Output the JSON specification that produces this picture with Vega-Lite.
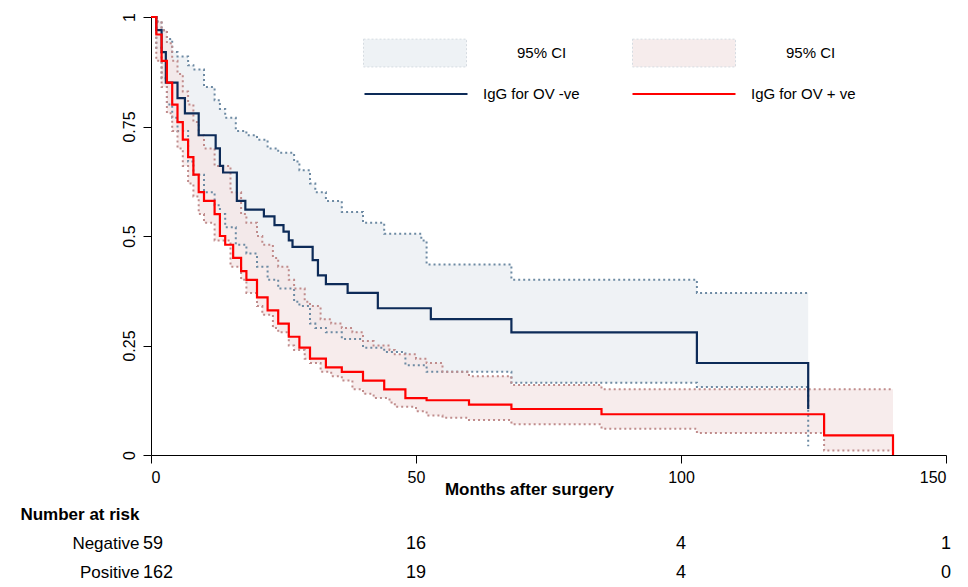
{
  "$schema": "https://vega.github.io/schema/vega-lite/v6.json",
  "background": "white",
  "padding": {"left": 19, "top": 1, "right": 18, "bottom": 0},
  "config": {
    "font": "Liberation Sans",
    "view": {"stroke": null},
    "axis": {"labelFont": "Liberation Sans", "titleFont": "Liberation Sans", "labelFontSize": 16, "labelColor": "black", "domainColor": "black", "tickColor": "black", "grid": false},
    "legend": {"labelFont": "Liberation Sans"}
  },
  "datasets": {
    "km": [
      {"grp": "neg", "t": 0, "s": 1}, {"grp": "neg", "t": 1, "s": 0.97}, {"grp": "neg", "t": 2, "s": 0.92}, {"grp": "neg", "t": 2.8, "s": 0.85},
      {"grp": "neg", "t": 5, "s": 0.815}, {"grp": "neg", "t": 6.4, "s": 0.78}, {"grp": "neg", "t": 9, "s": 0.73}, {"grp": "neg", "t": 12.2, "s": 0.7},
      {"grp": "neg", "t": 13, "s": 0.66}, {"grp": "neg", "t": 13.6, "s": 0.645}, {"grp": "neg", "t": 16.2, "s": 0.58}, {"grp": "neg", "t": 17.8, "s": 0.56},
      {"grp": "neg", "t": 21.3, "s": 0.545}, {"grp": "neg", "t": 23.3, "s": 0.525}, {"grp": "neg", "t": 25, "s": 0.51}, {"grp": "neg", "t": 26, "s": 0.49},
      {"grp": "neg", "t": 26.7, "s": 0.475}, {"grp": "neg", "t": 30.5, "s": 0.445}, {"grp": "neg", "t": 31.5, "s": 0.41}, {"grp": "neg", "t": 33, "s": 0.39},
      {"grp": "neg", "t": 37.1, "s": 0.37}, {"grp": "neg", "t": 42.8, "s": 0.335}, {"grp": "neg", "t": 52.8, "s": 0.31}, {"grp": "neg", "t": 68, "s": 0.28},
      {"grp": "neg", "t": 103, "s": 0.21}, {"grp": "neg", "t": 124, "s": 0.105},
      {"grp": "pos", "t": 0, "s": 1}, {"grp": "pos", "t": 1, "s": 0.96}, {"grp": "pos", "t": 2, "s": 0.9}, {"grp": "pos", "t": 3, "s": 0.85},
      {"grp": "pos", "t": 4, "s": 0.8}, {"grp": "pos", "t": 5, "s": 0.76}, {"grp": "pos", "t": 6, "s": 0.72}, {"grp": "pos", "t": 7, "s": 0.68},
      {"grp": "pos", "t": 8, "s": 0.64}, {"grp": "pos", "t": 9, "s": 0.6}, {"grp": "pos", "t": 10, "s": 0.58}, {"grp": "pos", "t": 12, "s": 0.55},
      {"grp": "pos", "t": 13, "s": 0.5}, {"grp": "pos", "t": 14, "s": 0.48}, {"grp": "pos", "t": 15.5, "s": 0.45}, {"grp": "pos", "t": 17, "s": 0.42},
      {"grp": "pos", "t": 18, "s": 0.4}, {"grp": "pos", "t": 20, "s": 0.36}, {"grp": "pos", "t": 22, "s": 0.33}, {"grp": "pos", "t": 24, "s": 0.3},
      {"grp": "pos", "t": 26, "s": 0.27}, {"grp": "pos", "t": 28, "s": 0.245}, {"grp": "pos", "t": 30, "s": 0.22}, {"grp": "pos", "t": 33, "s": 0.2},
      {"grp": "pos", "t": 36, "s": 0.19}, {"grp": "pos", "t": 40, "s": 0.17}, {"grp": "pos", "t": 44, "s": 0.15}, {"grp": "pos", "t": 48, "s": 0.13},
      {"grp": "pos", "t": 52, "s": 0.125}, {"grp": "pos", "t": 60, "s": 0.115}, {"grp": "pos", "t": 68, "s": 0.105}, {"grp": "pos", "t": 85, "s": 0.093},
      {"grp": "pos", "t": 127, "s": 0.045}, {"grp": "pos", "t": 140, "s": 0}
    ],
    "ci": [
      {"g": "neg", "t": 0, "lo": 1, "hi": 1}, {"g": "neg", "t": 1, "lo": 0.93, "hi": 0.99}, {"g": "neg", "t": 2, "lo": 0.86, "hi": 0.97},
      {"g": "neg", "t": 3, "lo": 0.8, "hi": 0.95}, {"g": "neg", "t": 4, "lo": 0.77, "hi": 0.92}, {"g": "neg", "t": 5, "lo": 0.74, "hi": 0.91},
      {"g": "neg", "t": 7, "lo": 0.67, "hi": 0.89}, {"g": "neg", "t": 8, "lo": 0.64, "hi": 0.88}, {"g": "neg", "t": 10, "lo": 0.6, "hi": 0.84},
      {"g": "neg", "t": 12, "lo": 0.57, "hi": 0.81}, {"g": "neg", "t": 13, "lo": 0.55, "hi": 0.79}, {"g": "neg", "t": 14, "lo": 0.52, "hi": 0.77},
      {"g": "neg", "t": 16, "lo": 0.48, "hi": 0.74}, {"g": "neg", "t": 18, "lo": 0.46, "hi": 0.73}, {"g": "neg", "t": 20, "lo": 0.43, "hi": 0.72},
      {"g": "neg", "t": 22, "lo": 0.4, "hi": 0.7}, {"g": "neg", "t": 24, "lo": 0.38, "hi": 0.69}, {"g": "neg", "t": 27, "lo": 0.35, "hi": 0.67},
      {"g": "neg", "t": 28, "lo": 0.34, "hi": 0.65}, {"g": "neg", "t": 30, "lo": 0.3, "hi": 0.62}, {"g": "neg", "t": 31, "lo": 0.29, "hi": 0.6},
      {"g": "neg", "t": 33, "lo": 0.28, "hi": 0.58}, {"g": "neg", "t": 36, "lo": 0.265, "hi": 0.555}, {"g": "neg", "t": 40, "lo": 0.245, "hi": 0.53},
      {"g": "neg", "t": 44, "lo": 0.235, "hi": 0.505}, {"g": "neg", "t": 48, "lo": 0.205, "hi": 0.505}, {"g": "neg", "t": 51, "lo": 0.205, "hi": 0.49},
      {"g": "neg", "t": 52, "lo": 0.19, "hi": 0.435}, {"g": "neg", "t": 68, "lo": 0.165, "hi": 0.4}, {"g": "neg", "t": 103, "lo": 0.155, "hi": 0.37},
      {"g": "neg", "t": 124, "lo": 0.02, "hi": 0.37},
      {"g": "pos", "t": 0, "lo": 1, "hi": 1}, {"g": "pos", "t": 1, "lo": 0.9, "hi": 0.99}, {"g": "pos", "t": 2, "lo": 0.84, "hi": 0.97},
      {"g": "pos", "t": 3, "lo": 0.78, "hi": 0.94}, {"g": "pos", "t": 4, "lo": 0.74, "hi": 0.9}, {"g": "pos", "t": 5, "lo": 0.7, "hi": 0.87},
      {"g": "pos", "t": 6, "lo": 0.66, "hi": 0.83}, {"g": "pos", "t": 7, "lo": 0.62, "hi": 0.8}, {"g": "pos", "t": 8, "lo": 0.59, "hi": 0.76},
      {"g": "pos", "t": 9, "lo": 0.55, "hi": 0.73}, {"g": "pos", "t": 10, "lo": 0.53, "hi": 0.7}, {"g": "pos", "t": 12, "lo": 0.49, "hi": 0.66},
      {"g": "pos", "t": 15, "lo": 0.43, "hi": 0.6}, {"g": "pos", "t": 17, "lo": 0.4, "hi": 0.55}, {"g": "pos", "t": 18, "lo": 0.37, "hi": 0.53},
      {"g": "pos", "t": 20, "lo": 0.34, "hi": 0.5}, {"g": "pos", "t": 21, "lo": 0.32, "hi": 0.48}, {"g": "pos", "t": 23, "lo": 0.29, "hi": 0.45},
      {"g": "pos", "t": 24, "lo": 0.28, "hi": 0.43}, {"g": "pos", "t": 26, "lo": 0.25, "hi": 0.4}, {"g": "pos", "t": 27, "lo": 0.24, "hi": 0.38},
      {"g": "pos", "t": 29, "lo": 0.22, "hi": 0.35}, {"g": "pos", "t": 30, "lo": 0.21, "hi": 0.34}, {"g": "pos", "t": 32, "lo": 0.19, "hi": 0.31},
      {"g": "pos", "t": 34, "lo": 0.18, "hi": 0.3}, {"g": "pos", "t": 36, "lo": 0.17, "hi": 0.29}, {"g": "pos", "t": 38, "lo": 0.15, "hi": 0.28},
      {"g": "pos", "t": 40, "lo": 0.14, "hi": 0.26}, {"g": "pos", "t": 42, "lo": 0.13, "hi": 0.25}, {"g": "pos", "t": 45, "lo": 0.12, "hi": 0.24},
      {"g": "pos", "t": 46, "lo": 0.11, "hi": 0.23}, {"g": "pos", "t": 50, "lo": 0.1, "hi": 0.22}, {"g": "pos", "t": 52, "lo": 0.09, "hi": 0.21},
      {"g": "pos", "t": 55, "lo": 0.085, "hi": 0.19}, {"g": "pos", "t": 60, "lo": 0.08, "hi": 0.18}, {"g": "pos", "t": 68, "lo": 0.07, "hi": 0.16},
      {"g": "pos", "t": 85, "lo": 0.06, "hi": 0.15}, {"g": "pos", "t": 103, "lo": 0.05, "hi": 0.15}, {"g": "pos", "t": 127, "lo": 0.01, "hi": 0.15},
      {"g": "pos", "t": 140, "lo": 0.01, "hi": 0.15}
    ],
    "risk": [
      {"row": "Negative", "t": 0, "n": "59"}, {"row": "Negative", "t": 50, "n": "16"}, {"row": "Negative", "t": 100, "n": "4"}, {"row": "Negative", "t": 150, "n": "1"},
      {"row": "Positive", "t": 0, "n": "162"}, {"row": "Positive", "t": 50, "n": "19"}, {"row": "Positive", "t": 100, "n": "4"}, {"row": "Positive", "t": 150, "n": "0"}
    ]
  },
  "bounds": "flush",
  "spacing": 45,
  "resolve": {"legend": {"fill": "independent", "stroke": "independent"}},
  "vconcat": [
    {
      "width": 795,
      "height": 438,
      "resolve": {"legend": {"fill": "independent", "stroke": "independent"}},
      "layer": [
        {
          "data": {"name": "ci"},
          "mark": {"type": "area", "interpolate": "step-after", "opacity": 0.75},
          "encoding": {
            "x": {"field": "t", "type": "quantitative", "scale": {"domain": [0, 150], "nice": false},
              "axis": {"values": [0, 50, 100, 150], "tickSize": 8, "labelPadding": 6, "title": "Months after surgery", "titleFontSize": 17, "titleFontWeight": "bold", "titlePadding": -4, "titleX": 378}},
            "y": {"field": "hi", "type": "quantitative", "scale": {"domain": [0, 1], "nice": false},
              "axis": {"values": [0, 0.25, 0.5, 0.75, 1], "labelExpr": "datum.value", "labelAngle": -90, "labelAlign": "center", "labelBaseline": "bottom", "tickSize": 8, "labelPadding": 6, "title": null}},
            "y2": {"field": "lo"},
            "fill": {"field": "g", "type": "nominal", "scale": {"domain": ["neg", "pos"], "range": ["#e9eef2", "#f4e6e6"]},
              "legend": {"orient": "none", "legendX": 212, "legendY": -16, "direction": "horizontal", "columns": 2, "title": null,
                "symbolType": "M-1,-0.27H1V0.27H-1Z", "symbolSize": 10609, "symbolStrokeColor": "#c8d0d8", "symbolStrokeWidth": 1, "symbolDash": [2, 2],
                "labelExpr": "'95% CI'", "labelFontSize": 15, "labelOffset": 50, "columnPadding": 63, "labelLimit": 200}}
          }
        },
        {"data": {"name": "ci"}, "transform": [{"filter": "datum.g == 'neg'"}], "mark": {"type": "line", "interpolate": "step-after", "color": "#6d8aa3", "strokeDash": [2, 3], "strokeWidth": 2}, "encoding": {"x": {"field": "t", "type": "quantitative"}, "y": {"field": "hi", "type": "quantitative"}}},
        {"data": {"name": "ci"}, "transform": [{"filter": "datum.g == 'neg'"}], "mark": {"type": "line", "interpolate": "step-after", "color": "#6d8aa3", "strokeDash": [2, 3], "strokeWidth": 2}, "encoding": {"x": {"field": "t", "type": "quantitative"}, "y": {"field": "lo", "type": "quantitative"}}},
        {"data": {"name": "ci"}, "transform": [{"filter": "datum.g == 'pos'"}], "mark": {"type": "line", "interpolate": "step-after", "color": "#c08c8c", "strokeDash": [2, 3], "strokeWidth": 2}, "encoding": {"x": {"field": "t", "type": "quantitative"}, "y": {"field": "hi", "type": "quantitative"}}},
        {"data": {"name": "ci"}, "transform": [{"filter": "datum.g == 'pos'"}], "mark": {"type": "line", "interpolate": "step-after", "color": "#c08c8c", "strokeDash": [2, 3], "strokeWidth": 2}, "encoding": {"x": {"field": "t", "type": "quantitative"}, "y": {"field": "lo", "type": "quantitative"}}},
        {
          "data": {"name": "km"},
          "mark": {"type": "line", "interpolate": "step-after", "strokeWidth": 2.2},
          "encoding": {
            "x": {"field": "t", "type": "quantitative"},
            "y": {"field": "s", "type": "quantitative"},
            "stroke": {"field": "grp", "type": "nominal", "scale": {"domain": ["neg", "pos"], "range": ["#0d2b58", "#ff0000"]},
              "legend": {"orient": "none", "legendX": 212, "legendY": 24, "direction": "horizontal", "columns": 2, "title": null,
                "symbolType": "M-1,0H1", "symbolSize": 10609, "symbolStrokeWidth": 2.2,
                "labelExpr": "datum.value == 'neg' ? 'IgG for OV -ve' : 'IgG for OV + ve'", "labelFontSize": 15, "labelOffset": 14, "columnPadding": 48, "labelLimit": 200}}
          }
        }
      ]
    },
    {
      "width": 795,
      "height": 87,
      "data": {"name": "risk"},
      "layer": [
        {
          "transform": [{"filter": "datum.t > 0"}],
          "mark": {"type": "text", "fontSize": 18, "align": "center"},
          "encoding": {
            "x": {"field": "t", "type": "quantitative", "scale": {"domain": [0, 150], "nice": false}, "axis": null},
            "y": {"field": "row", "type": "ordinal", "scale": {"domain": ["Number at risk", "Negative", "Positive"]},
              "axis": {"domain": false, "ticks": false, "labelFontSize": 17, "labelPadding": 12, "labelColor": "black",
                "labelFontWeight": {"condition": {"test": "datum.value == 'Number at risk'", "value": "bold"}, "value": "normal"}, "title": null}},
            "text": {"field": "n"}
          }
        },
        {
          "transform": [{"filter": "datum.t == 0"}],
          "mark": {"type": "text", "fontSize": 18, "align": "left", "dx": -8},
          "encoding": {
            "x": {"field": "t", "type": "quantitative"},
            "y": {"field": "row", "type": "ordinal"},
            "text": {"field": "n"}
          }
        }
      ]
    }
  ]
}
